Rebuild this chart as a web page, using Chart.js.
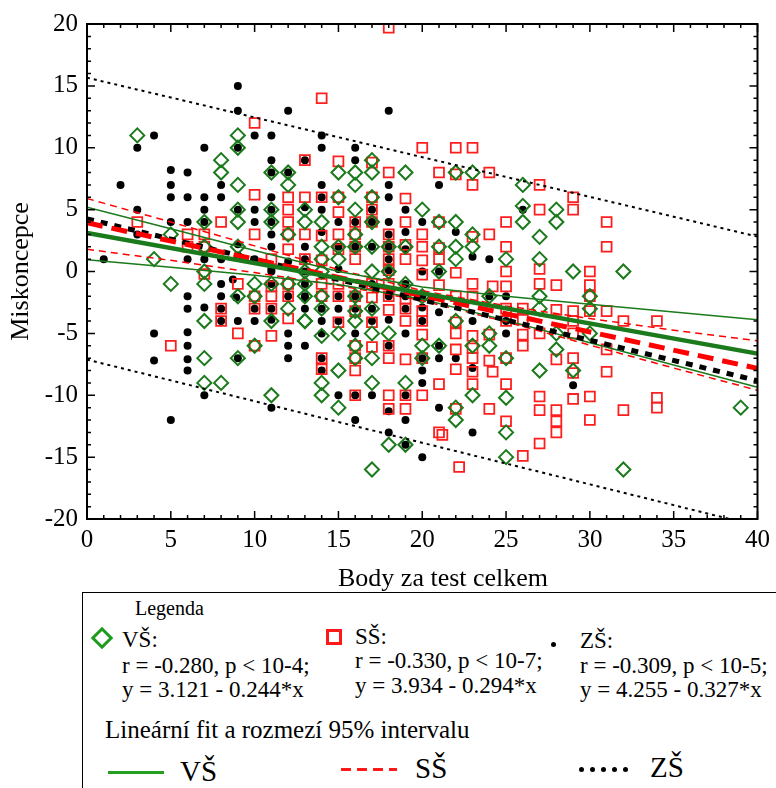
<!DOCTYPE html>
<html lang="cs">
<head>
    <meta charset="UTF-8">
    <title>Miskoncepce vs. body za test</title>
    <style>
        body { margin: 0; background: #fff; font-family: "Liberation Serif", "Times New Roman", serif; }
        .wrap { position: relative; width: 776px; height: 788px; overflow: hidden; }
        #chart { position: absolute; left: 0; top: 0; }
        .xtitle {
            position: absolute; left: 338px; width: 200px; top: 564px; text-align: center;
            font-size: 26px; line-height: 28px; white-space: nowrap;
        }
        /* legend box under the plot */
        .legend {
            position: absolute; left: 82px; top: 592px; width: 720px; height: 220px;
            border: 1.5px solid #000; box-sizing: border-box; background: #fff;
        }
        .legend .t { position: absolute; font-size: 23px; line-height: 24px; white-space: nowrap; color: #000; }
        .diamond {
            position: absolute; width: 10px; height: 10px; border: 3px solid #1f9a1f;
            transform: rotate(45deg);
        }
        .square { position: absolute; width: 10px; height: 10px; border: 3px solid #ff1a1a; }
        .dot { position: absolute; width: 5px; height: 5px; border-radius: 50%; background: #000; }
        .ln { position: absolute; height: 3px; }
    </style>
</head>
<body>
<div class="wrap">
    <canvas id="chart" width="776" height="600"></canvas>
    <div class="xtitle">Body za test celkem</div>

    <div class="legend">
        <div class="t" style="left:52px;top:3px;font-size:20px;">Legenda</div>

        <div class="diamond" style="left:11px;top:37px;"></div>
        <div class="t" style="left:39px;top:35px;">VŠ:</div>
        <div class="t" style="left:39px;top:61px;">r = -0.280, p &lt; 10-4;</div>
        <div class="t" style="left:39px;top:85px;">y = 3.121 - 0.244*x</div>

        <div class="square" style="left:243px;top:36px;"></div>
        <div class="t" style="left:272px;top:32px;">SŠ:</div>
        <div class="t" style="left:272px;top:56px;">r = -0.330, p &lt; 10-7;</div>
        <div class="t" style="left:272px;top:81px;">y = 3.934 - 0.294*x</div>

        <div class="dot" style="left:468px;top:49px;"></div>
        <div class="t" style="left:497px;top:36px;">ZŠ:</div>
        <div class="t" style="left:497px;top:61px;">r = -0.309, p &lt; 10-5;</div>
        <div class="t" style="left:497px;top:85px;">y = 4.255 - 0.327*x</div>

        <div class="t" style="left:22px;top:125px;font-size:25px;">Lineární fit a rozmezí 95% intervalu</div>

        <div class="ln" style="left:25px;top:178px;width:56px;background:#22a022;"></div>
        <div class="t" style="left:97px;top:163px;font-size:29px;line-height:30px;">VŠ</div>

        <div class="ln" style="left:258px;top:175px;width:56px;background:repeating-linear-gradient(to right,#ff1a1a 0 10px,transparent 10px 16px);"></div>
        <div class="t" style="left:332px;top:160px;font-size:29px;line-height:30px;">SŠ</div>

        <div class="dot" style="left:496px;top:174px;"></div>
        <div class="dot" style="left:507px;top:174px;"></div>
        <div class="dot" style="left:518px;top:174px;"></div>
        <div class="dot" style="left:529px;top:174px;"></div>
        <div class="dot" style="left:540px;top:174px;"></div>
        <div class="t" style="left:567px;top:159px;font-size:29px;line-height:30px;">ZŠ</div>
    </div>
</div>

<script src="https://cdn.jsdelivr.net/npm/chart.js"></script>
<script>
// ---- data ----
// VŠ (green diamonds)
const vsPoints = [
    [3,11],[9,11],[9,10],[8,9],[8,8],[9,7],[11,8],[12,8],[12,7],[9,5],[11,5],[13,5],[7,4],[9,4],[11,4],[13,4],
    [5,3],[12,3],[4,1],[7,0],[13,0],[7,2],[9,2],[5,-1],[7,-1],[10,-1],[11,-1],[13,-1],[12,-1],[9,-2],[10,-2],
    [13,-2],[14,-2],[12,-3],[7,-4],[11,-4],[13,-4],[10,-6],[7,-7],[9,-7],[7,-9],[8,-9],[11,-10],
    [17,9],[15,8],[16,8],[17,8],[19,8],[22,8],[23,8],[16,7],[26,7],[15,6],[17,6],[16,5],[20,5],[26,5.3],
    [14,4],[17,4],[21,4],[22,4],[26,4],[16,3],[23,3],[27,2.8],[14,2],[15,2],[16,2],[17,2],[18,2],[19,2],
    [21,2],[22,2],[23,2],[25,1],[27,1],[15,1],[22,1],[14,1],[21,0],[17,0],[14,0],[18,0],[19,-1],
    [27,-2],[24,-2],[16,-2],[20,-2],[14,-3],[16,-3.2],[17,-3],[27,-3],[13,-4],[16,-4],[22,-4],
    [14,-5.2],[15,-5],[17,-5],[18,-5],[24,-5],[16,-6],[20,-6],[21,-6],[23,-6],[24,-6],[15,-8],[16,-7],
    [17,-7],[20,-7],[25,-7],[27,-8],[14,-9],[17,-9],[19,-9],[14,-10],[23,-10],[25,-10.2],[15,-11],
    [22,-11],[22,-12],[25,-13],[18,-14],[19,-14],[25,-15],[17,-16],
    [28,5],[28,4],[29,0],[32,0],[30,-2],[30,-3],[28,-5],[30,-5],[28,-6.3],[29,-8],[39,-11],[32,-16]
];
// SŠ (red squares)
const ssPoints = [
    [10,12],[13,9],[10,6.2],[12,6],[13,6],[12,5],[3,4],[8,4],[12,4],[6,3],[7,3],[10,3],[12,3],[13,3],
    [12,1.8],[6,2],[7,2],[11,1],[7,-0.2],[9,-1],[11,-1.2],[12,-1],[10,-2],[11,-2],[12,-2],[8,-3],[10,-3],
    [11,-3],[8,-4],[12,-3.8],[9,-5],[11,-5.2],[5,-6],[10,-6],
    [18,19.7],[14,14],[15,8.9],[17,8.8],[18,8],[20,10],[22,10],[23,10],[21,8],[22,7.85],[24,8],[23,7],
    [27,7],[14,6],[15,6],[17,6],[19,5.9],[15,4.8],[17,5],[27,5],[16,4],[17,4],[19,4],[21,4],[25,4],
    [14,2.9],[15,3],[16,3],[18,3],[20,3],[23,2.8],[24,3],[15,1.8],[16,2],[18,2],[19,2.15],[20,2],
    [21,1.9],[25,2],[13,1],[14,0.9],[16,1],[18,1],[19,1],[20,0.9],[21,1],[18,0.1],
    [22,-0.1],[25,0],[20,-0.25],[14,-1],[15,-1],[17,-1],[18,-1],[14,-2],[15,-2],[16,-2],[17,-2.1],
    [18,-2],[19,-2.2],[21,-1.1],[23,-1],[24.2,-1.2],[25,-1.2],[27,-1],[22,-2],[23,-2],[16,-3.2],
    [18,-3.1],[19,-3],[20,-3.2],[25,-3],[26,-3],[15,-4.1],[17,-4.1],[19,-4],[20,-4],[22,-4.1],[25,-4],
    [26,-3.9],[20,-5.1],[22,-5],[23,-5.2],[24,-5.1],[26,-5.1],[16,-6],[17,-6.1],[18,-6],[22,-6.3],
    [23,-6.2],[26,-6],[14,-7],[16,-7],[18,-7],[19,-7.1],[20,-7],[23,-7],[24,-7.2],[25,-7],[14,-7.9],
    [16,-8],[22,-7.9],[23,-8.1],[24.2,-8.1],[21,-9.1],[23,-9.1],[25,-9.1],[16,-10],[18,-10],[19,-10],
    [20,-10],[27,-10.1],[18,-11.1],[19,-11.1],[22,-11.1],[24,-11.1],[27,-11.2],[25,-12.1],[21,-13],
    [21.2,-13.2],[27,-13.9],[26,-14.9],[22.2,-15.8],
    [29,6],[29,5],[31,4],[31,2],[30,0],[27,0.2],[28,-1.1],[30,-1.1],[30,-2],[28,-3.1],[29,-3.2],
    [30,-3.2],[31,-3.2],[32,-4],[34,-4],[29,-4],[27,-5],[29,-5],[31,-6.3],[28,-7.1],[29,-7],[29,-8.2],
    [31,-8.1],[29,-10.3],[30,-10.1],[34,-10.2],[28,-11.2],[32,-11.2],[34,-11],[28,-12.1],[30,-12],[28,-13]
];
// ZŠ (black dots)
const zsPoints = [
    [9,15],[9,13],[12,13],[4,11],[3,10],[7,10],[9,10],[10,11],[11,11],[13,9],[5,8.2],[6,8],[11,9],[11,8],
    [12,8],[2,7],[5,7],[5,6],[6,6],[7,6],[8,7],[8,6],[11,6],[13,5.2],[3,5],[7,5],[9,5],[10,5],[11,5],
    [5,4],[6,4],[7,4],[10,4],[11,4],[3,3],[11,3],[9,2.2],[11,2],[12,0.8],[13,2],[1,1],[6,1],[7,1],[8,1],
    [10,1],[11,0.2],[9,1.3],[11,0],[13,0],[8,-1],[8.7,-0.65],[11,-1],[6,-2],[8,-2],[8.9,-2.1],[12,-2],
    [13,-2.2],[6,-3],[7,-2.9],[8,-3],[10,-3],[11,-3],[13,-3],[8,-4],[9,-4],[10,-4],[11,-3.9],[4,-5],
    [6,-4.9],[12,-5],[6,-6],[12,-6],[13,-6],[4,-7.2],[6,-7.1],[9,-7],[12,-7],[6,-8],[7,-10],[11,-11],[5,-12],
    [18,13],[14,11],[14,10],[16,10],[16,9],[21,7],[14,7],[18,7],[14,6],[18,6],[14,5],[17,5],[19,5],[26,5],
    [15,4],[16,4],[17,4],[18,4],[20,4],[14,3.2],[18,3],[19,3.2],[22,3.2],[15,2],[16,2],[17,2],[18,2],
    [19,1.8],[23,1.2],[24,1],[13,1],[18,1],[15,0.2],[21,0],[20,0],[18,0.1],[17,-1],[19,-1],[13,-1],
    [13,-2],[15,-2],[16,-2],[18,-2],[19,-2],[20,-2],[24,-2],[25,-2],[14,-3],[15,-3],[16,-3],[17,-3],
    [19,-3],[20,-2.9],[21,-3.3],[14,-4],[15,-4],[17,-4],[18,-3.9],[20,-4],[23,-4],[25,-4],[14,-5],
    [16,-5],[19,-5],[25,-5],[18,-6],[21,-6],[14,-7],[20,-7],[21,-7],[22,-7],[14,-8],[20,-8],
    [23,-7.8],[20,-9],[15,-10],[16,-10],[17,-10],[19,-10],[18,-11.3],[21,-11],[16,-12],[19,-12],
    [18,-13],[23,-13],[19,-14],[20,-15],[29,-9.2]
];

// fits from the legend: y = a + b*x
const fitA = { vs: 3.121, ss: 3.934, zs: 4.255 };
const fitB = { vs: -0.244, ss: -0.294, zs: -0.327 };
const fitX = [0, 40];

// 95% interval lines, read at these x values
const bandX   = [0, 5, 10, 15, 20, 25, 30, 35, 40];
const vsUpper = [5.2, 3.45, 1.7, 0.0, -1.25, -2.0, -2.65, -3.28, -3.9];
const vsLower = [0.95, 0.35, -0.3, -1.05, -2.25, -3.95, -5.75, -7.55, -9.35];
const ssUpper = [5.9, 4.0, 2.07, 0.16, -1.55, -2.78, -3.8, -4.75, -5.6];
const ssLower = [1.8, 0.9, -0.09, -1.12, -2.35, -4.06, -5.95, -7.8, -9.6];
const zsUpper = [15.66, 14.06, 12.45, 10.85, 9.24, 7.64, 6.03, 4.43, 2.82];
const zsLower = [-7.12, -8.8, -10.48, -12.16, -13.84, -15.52, -17.2, -18.88, -20.56];

const GREEN = '#1b7a1b';
const RED = '#ff1e1e';

function pts(list) { return list.map(p => ({ x: p[0], y: p[1] })); }
function curve(xs, ys) { return xs.map((x, i) => ({ x: x, y: ys[i] })); }
function fit(k) { return fitX.map(x => ({ x: x, y: fitA[k] + fitB[k] * x })); }

function lineSet(data, color, width, dash, order) {
    return {
        data: data, showLine: true, borderColor: color, borderWidth: width,
        borderDash: dash, pointRadius: 0, fill: false, order: order
    };
}

// frame + inward ticks on all four sides
const frameTicks = {
    id: 'frameTicks',
    afterDatasetsDraw(chart) {
        const { ctx, chartArea: a, scales: { x, y } } = chart;
        ctx.save();
        ctx.strokeStyle = '#000';
        ctx.lineWidth = 2;
        ctx.strokeRect(a.left, a.top, a.right - a.left, a.bottom - a.top);
        ctx.lineWidth = 1.5;
        ctx.beginPath();
        for (let v = 0; v <= 40; v++) {
            const px = x.getPixelForValue(v);
            const len = v % 5 === 0 ? 8 : 4;
            ctx.moveTo(px, a.top); ctx.lineTo(px, a.top + len);
            ctx.moveTo(px, a.bottom); ctx.lineTo(px, a.bottom - len);
        }
        for (let v = -20; v <= 20; v++) {
            const py = y.getPixelForValue(v);
            const len = v % 5 === 0 ? 8 : 4;
            ctx.moveTo(a.left, py); ctx.lineTo(a.left + len, py);
            ctx.moveTo(a.right, py); ctx.lineTo(a.right - len, py);
        }
        ctx.stroke();
        ctx.restore();
    }
};

const tickFont = { family: 'Liberation Serif', size: 25 };
const titleFont = { family: 'Liberation Serif', size: 26 };

new Chart(document.getElementById('chart'), {
    type: 'scatter',
    data: {
        datasets: [
            lineSet(fit('vs'), GREEN, 4.5, [], 0),
            lineSet(fit('ss'), '#ff0000', 5, [16, 9], 1),
            lineSet(fit('zs'), '#000', 5, [7, 7], 2),
            lineSet(curve(bandX, vsUpper), GREEN, 1.5, [], 3),
            lineSet(curve(bandX, vsLower), GREEN, 1.5, [], 3),
            lineSet(curve(bandX, ssUpper), '#ff0000', 1.5, [7, 5], 4),
            lineSet(curve(bandX, ssLower), '#ff0000', 1.5, [7, 5], 4),
            lineSet(curve(bandX, zsUpper), '#000', 2, [3, 4], 5),
            lineSet(curve(bandX, zsLower), '#000', 2, [3, 4], 5),
            {
                data: pts(vsPoints), pointStyle: 'rectRot', pointRadius: 7, borderWidth: 2,
                borderColor: GREEN, backgroundColor: 'rgba(0,0,0,0)', order: 6
            },
            {
                data: pts(ssPoints), pointStyle: 'rect', pointRadius: 7, borderWidth: 1.8,
                borderColor: RED, backgroundColor: 'rgba(0,0,0,0)', order: 7
            },
            {
                data: pts(zsPoints), pointStyle: 'circle', pointRadius: 4, borderWidth: 0,
                borderColor: '#000', backgroundColor: '#000', order: 8
            }
        ]
    },
    options: {
        responsive: false,
        animation: false,
        devicePixelRatio: 1,
        layout: { padding: { top: 20, right: 10, left: 0, bottom: 0 } },
        plugins: { legend: { display: false }, tooltip: { enabled: false } },
        scales: {
            x: {
                type: 'linear', min: 0, max: 40,
                ticks: { stepSize: 5, font: tickFont, color: '#000', padding: 6 },
                grid: { display: false, drawTicks: false },
                border: { display: false },
                title: { display: false },
                afterFit(s) { s.height = 81; }
            },
            y: {
                min: -20, max: 20,
                ticks: { stepSize: 5, font: tickFont, color: '#000', padding: 9 },
                grid: { display: false, drawTicks: false },
                border: { display: false },
                title: { display: true, text: 'Miskoncepce', font: titleFont, color: '#000',
                         padding: { top: 6, bottom: 0 } },
                afterFit(s) { s.width = 87; }
            }
        }
    },
    plugins: [frameTicks]
});
</script>
</body>
</html>
